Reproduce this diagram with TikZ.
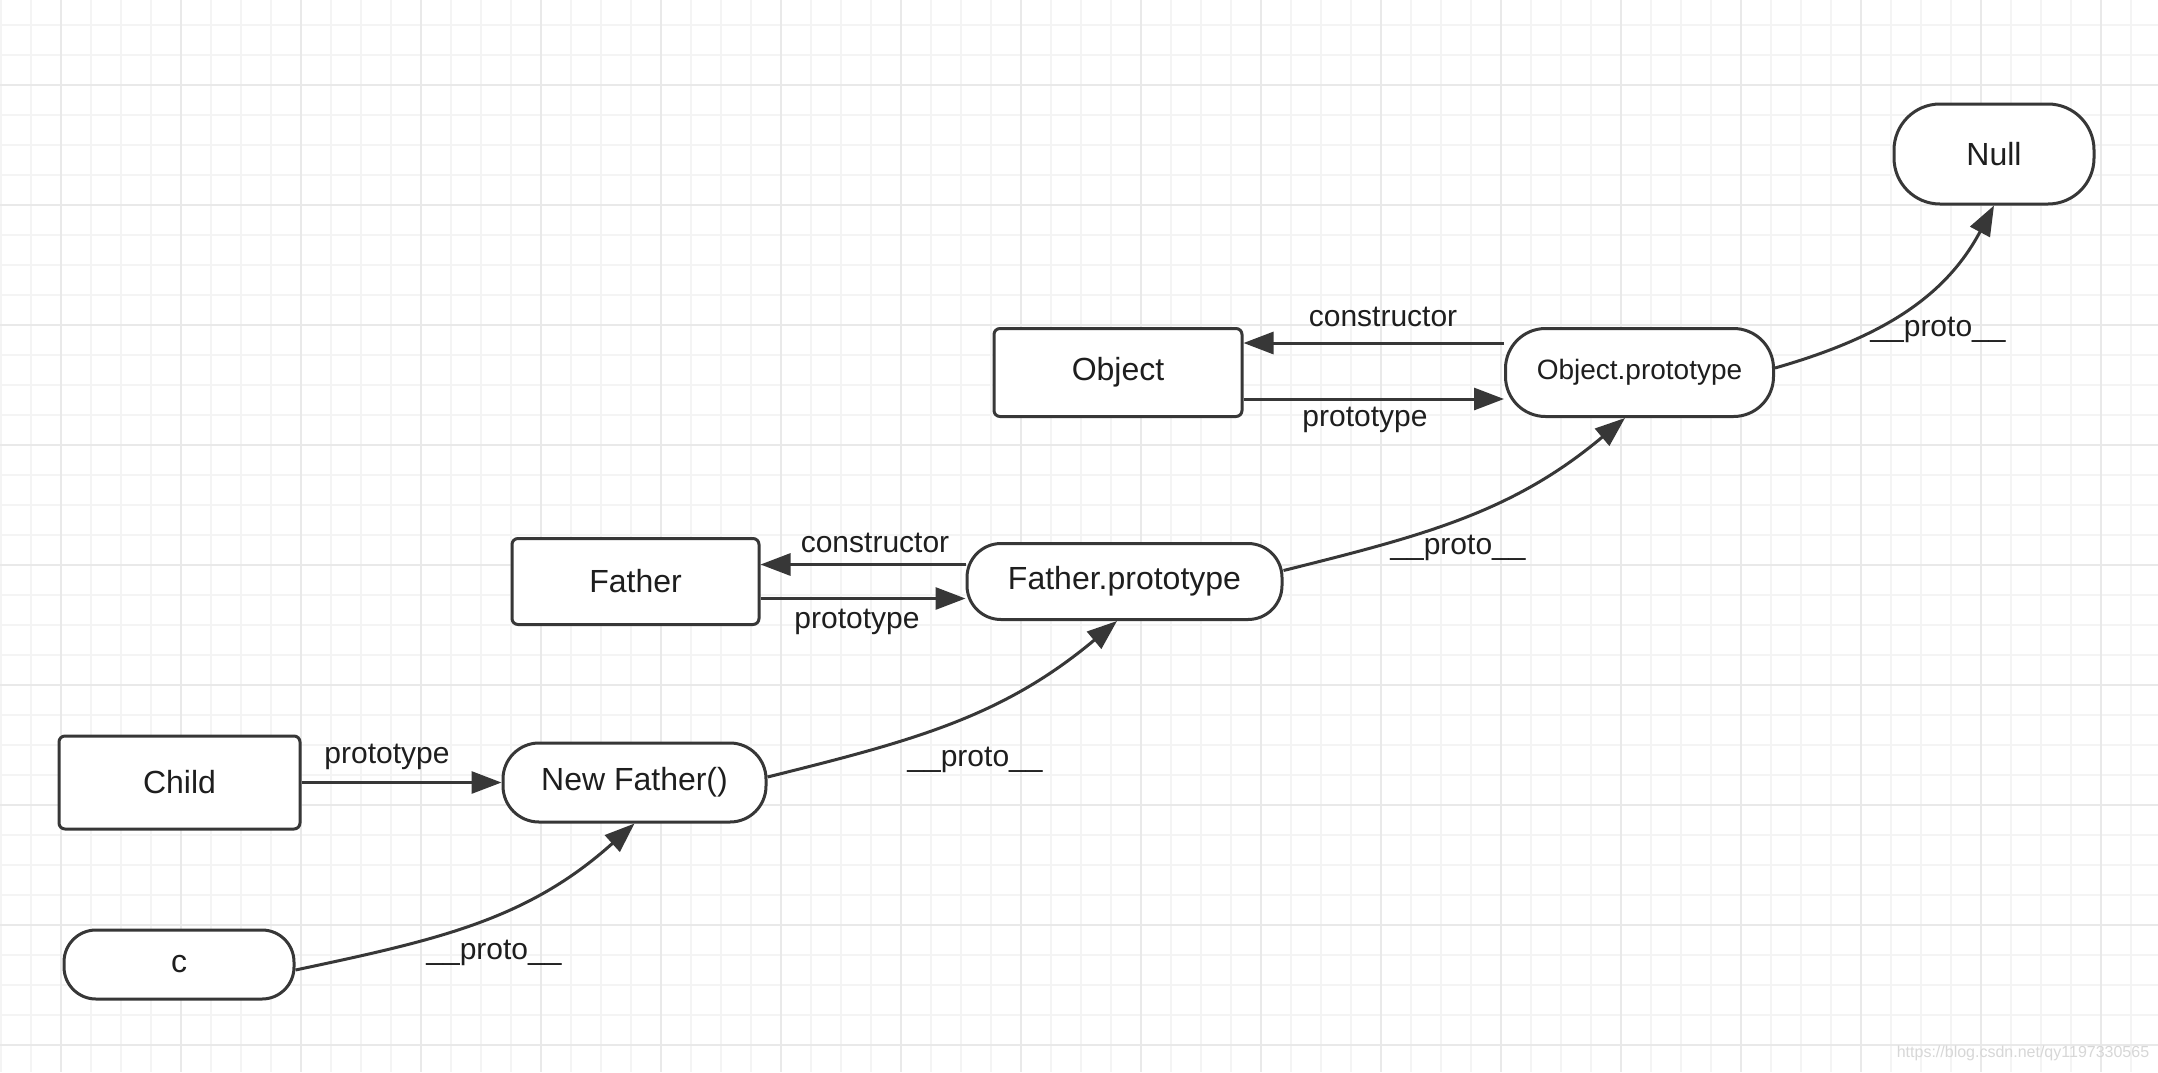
\documentclass[tikz,border=0pt]{standalone}
\usepackage{fontspec}
\setmainfont{Liberation Sans}
\usepackage{tikz}
\usetikzlibrary{arrows.meta, positioning}
\definecolor{InkGray}{RGB}{55, 55, 55}
\definecolor{TextGray}{RGB}{30, 30, 30}
\definecolor{GridMinor}{RGB}{244, 244, 244}
\definecolor{GridMajor}{RGB}{233, 233, 233}
\definecolor{MarkGray}{RGB}{215, 215, 215}

\begin{document}
\begin{tikzpicture}[
    x=0.5pt, y=-0.5pt,
    every node/.style={font=\fontsize{15}{18}\selectfont, text=TextGray},
    box/.style={draw=InkGray, line width=1.5pt, fill=white, rounded corners=3pt,
        inner sep=0pt, font=\fontsize{16}{19}\selectfont},
    term/.style={box, rounded corners=17pt},
    link/.style={draw=InkGray, line width=1.5pt, -{Triangle[length=15pt, width=11pt]}},
    lbl/.style={inner sep=1pt}
]
% Grid paper
\useasboundingbox (0,0) rectangle (2158,1072);
\fill[white] (0,0) rectangle (2158,1072);
\foreach \gx in {1,31,...,2158} \draw[GridMinor, line width=1pt] (\gx,0) -- (\gx,1072);
\foreach \gy in {25,55,...,1072} \draw[GridMinor, line width=1pt] (0,\gy) -- (2158,\gy);
\foreach \gx in {61,181,...,2158} \draw[GridMajor, line width=1pt] (\gx,0) -- (\gx,1072);
\foreach \gy in {85,205,...,1072} \draw[GridMajor, line width=1pt] (0,\gy) -- (2158,\gy);
% Top row
\node[term, rounded corners=23pt, minimum width=100pt, minimum height=50pt] (null) at (1994,154) {Null};
\node[box, minimum width=124pt, minimum height=44pt] (obj) at (1118,372.5) {Object};
\node[term, rounded corners=20pt, minimum width=134pt, minimum height=44pt, font=\fontsize{14}{17}\selectfont] (objproto) at (1639.5,372.5) {Object.prototype};
% Father row
\node[box, minimum width=123.5pt, minimum height=43pt] (father) at (635.5,581.5) {Father};
\node[term, minimum width=157.5pt, minimum height=38pt] (faproto) at (1124.5,581.5) {Father.prototype};
% Child row
\node[box, minimum width=120.5pt, minimum height=46.5pt] (child) at (179.5,782.5) {Child};
\node[term, rounded corners=18pt, minimum width=131.5pt, minimum height=39.5pt] (newfa) at (634.5,782.5) {New Father()};
\node[term, rounded corners=16pt, minimum width=115pt, minimum height=34.5pt] (inst) at (179,964.5) {c};
% constructor / prototype links
\draw[link] ([yshift=14.75pt]objproto.west) -- ([yshift=14.75pt]obj.east);
\draw[link] ([yshift=-13.25pt]obj.east) -- ([yshift=-13.25pt]objproto.west);
\draw[link] ([yshift=8.5pt]faproto.west) -- ([yshift=8.5pt]father.east);
\draw[link] ([yshift=-8.5pt]father.east) -- ([yshift=-8.5pt]faproto.west);
\draw[link] (child.east) -- (newfa.west);
\node[lbl] (objctor) at (1383,317) {constructor};
\node[lbl] (objprot) at (1365,420) {prototype};
\node[lbl] (factor) at (875,543) {constructor};
\node[lbl] (faprot) at (857,622) {prototype};
\node[lbl] (chprot) at (387,757) {prototype};
% __proto__ chain
\draw[link] ([yshift=-2.75pt]inst.east) to[out=12, in=222] (newfa.south);
\draw[link] ([yshift=2.75pt]newfa.east) to[out=14, in=220] ([xshift=-3.75pt]faproto.south);
\draw[link] ([yshift=5.5pt]faproto.east) to[out=14, in=220] ([xshift=-7.25pt]objproto.south);
\draw[link] ([yshift=2.25pt]objproto.east) to[out=16, in=242] (null.south);
\node[lbl] (proto1) at (494,953) {\_\_proto\_\_};
\node[lbl] (proto2) at (975,760) {\_\_proto\_\_};
\node[lbl] (proto3) at (1458,548) {\_\_proto\_\_};
\node[lbl] (proto4) at (1938,330) {\_\_proto\_\_};
% Watermark
\node[font=\fontsize{8}{10}\selectfont, text=MarkGray] (mark) at (2023,1053) {https://blog.csdn.net/qy1197330565};
\end{tikzpicture}
\end{document}
